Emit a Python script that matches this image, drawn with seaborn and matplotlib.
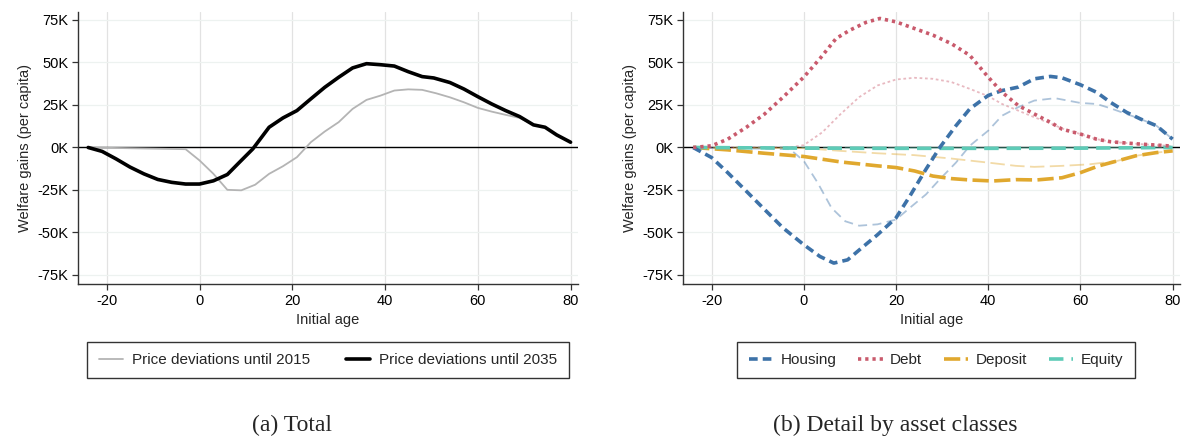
import numpy as np
import pandas as pd
import matplotlib
matplotlib.use("Agg")
import matplotlib.pyplot as plt
import seaborn as sns
from matplotlib.ticker import FuncFormatter
from matplotlib.lines import Line2D

# ---------------- data (values in thousands) ----------------
age_2015 = [-24, -3, 0, 3, 6, 9, 12, 15, 18, 21, 24, 27, 30, 33, 36, 39, 42, 45, 48,
            51, 54, 57, 60, 63, 66, 69, 72, 74.5, 77, 80]
tot_2015 = [0, -1, -7.6, -15.5, -24.9, -25.2, -21.9, -15.5, -11, -5.7, 3.1, 9.4, 14.9,
            22.7, 28, 30.5, 33.5, 34.2, 33.9, 31.9, 29.5, 26.6, 23.3, 21.1, 19.2, 17.4,
            13.3, 11.9, 7.4, 3.1]
age_2035 = [-24, -21, -18, -15, -12, -9, -6, -3, 0, 3, 6, 8.5, 11.5, 15, 18, 21, 24, 27,
            30, 33, 36, 39, 42, 45, 48, 50.5, 54, 57, 60, 63, 66, 69, 72, 74.5, 77, 80]
tot_2035 = [0, -2.3, -6.7, -11.5, -15.5, -18.8, -20.5, -21.5, -21.5, -19.6, -15.9, -9,
            -0.8, 11.9, 17.4, 21.7, 28.6, 35.4, 41.3, 46.8, 49.3, 48.7, 47.9, 44.6, 41.7,
            40.9, 38.2, 34.4, 29.9, 25.6, 21.7, 18.2, 13.3, 11.9, 7.4, 3.1]

# Detail by asset classes: dark = until 2035, light = until 2015
house_age = [-24, -20, -16.5, -12.5, -8.5, -4.5, 0, 3.5, 6.5, 9.5, 12.5, 16, 20, 23, 26.5,
             29.5, 33, 36, 40, 43, 46.5, 50, 53.5, 56, 60, 63.5, 66.5, 70, 73, 76.5, 80]
house_35 = [0, -5.9, -14.8, -25.6, -36.5, -47.3, -57.2, -64.1, -68, -66.1, -59.2, -51.3,
            -41.4, -28.6, -12.8, 0, 12.8, 22.7, 30.6, 33.5, 35.5, 40.4, 41.8, 41, 36.9,
            32.5, 26.6, 20.7, 16.8, 12.8, 4.9]
house15_age = [-24, -3, 0, 3, 6, 9, 12, 16, 20, 23, 26.5, 29.5, 33, 36, 40, 43, 46.5, 50,
               54.5, 60, 63.5, 66.5, 70, 73, 76.5, 80]
house_15 = [0, -1, -7.9, -20.7, -35.5, -43.4, -46, -45.2, -42.4, -35.5, -27.6, -18.7,
            -8.9, 1, 9.9, 18.7, 23.7, 27.6, 29, 26.2, 25.6, 23.1, 19.7, 16.8, 12.8, 4.9]

debt_age = [-24, -20, -16.5, -12.5, -8.5, -4.5, 0, 3.5, 7, 10, 13.5, 16.5, 20, 24, 28, 32,
            36, 40, 43, 46.5, 50, 53.5, 56, 60, 63.5, 66.5, 70, 73, 76.5, 80]
debt_35 = [0, 1, 4.9, 11.8, 19.7, 29.6, 41.4, 52.3, 64.1, 69, 73.6, 75.9, 73.9, 70, 66.1,
           61.1, 54.2, 41.4, 32.5, 24.7, 19.7, 14.8, 10.8, 7.9, 4.9, 3.4, 2.6, 2, 1.4, 0.8]
debt15_age = [-24, -3, 0, 4, 8, 12, 16, 20, 24, 28, 32, 36, 40, 43, 46.5, 50, 53.5, 56, 60,
              63.5, 66.5, 70, 73, 76.5, 80]
debt_15 = [0, 0, 1.4, 8.9, 19.7, 29.6, 36.5, 40, 41, 40.4, 38.5, 34.5, 30.2, 25.6, 21.7,
           17.8, 14.2, 11.2, 7.9, 4.9, 3.4, 2.6, 2, 1.4, 0.8]

dep_age = [-24, -16.5, -8.5, 0, 8, 16, 20, 24, 28, 32, 36, 41, 46, 50.5, 56, 60, 64, 68,
           72, 76.5, 80]
dep_35 = [0, -1.4, -3.4, -5.3, -8.5, -10.8, -11.8, -13.8, -16.8, -18.3, -19.1, -19.7,
          -18.9, -19.1, -17.8, -14.8, -10.8, -7.9, -4.9, -3, -2]
dep15_age = [-24, 0, 8, 16, 24, 32, 40, 46, 50, 56, 62, 68, 72, 76.5, 80]
dep_15 = [0, -0.4, -2, -3.4, -4.5, -6.5, -8.9, -10.8, -11.4, -10.8, -9.9, -7.9, -4.9, -3, -2]

eq_age = [-24, 0, 20, 40, 60, 80]
eq_35 = [0, -0.4, -0.5, -0.5, -0.4, 0]
eq_15 = [0, 0, -0.2, -0.2, -0.2, 0]

xticks = [-20, 0, 20, 40, 60, 80]
yticks = [-75, -50, -25, 0, 25, 50, 75]

# ---------------- style ----------------
sns.set_theme(style="white")
plt.rcParams['font.family'] = ['Liberation Sans', 'DejaVu Sans']
plt.rcParams['axes.unicode_minus'] = False

C_HOUSE = "#3d72a8"
C_DEBT = "#c95a6c"
C_DEP = "#e0a82e"
C_EQ = "#5ecbb7"

fig = plt.figure(figsize=(11.86, 4.43), dpi=100)
W, H = 1186, 443
axL = fig.add_axes([78 / W, (H - 284) / H, 500 / W, 272 / H])
axR = fig.add_axes([683 / W, (H - 284) / H, 497 / W, 272 / H])


def style_ax(ax):
    ax.set_xlim(-26.2, 81.6)
    ax.set_ylim(-80.3, 79.7)
    ax.set_xticks(xticks)
    ax.set_yticks(yticks)
    ax.yaxis.set_major_formatter(FuncFormatter(lambda v, p: f"{v:.0f}K"))
    for v in xticks:
        ax.axvline(v, color="#e2e2e2", lw=0.9, zorder=0)
    for v in yticks:
        ax.axhline(v, color="#edf2f0", lw=0.9, zorder=0)
    ax.axhline(0, color="black", lw=1.0, zorder=1)
    for s in ["top", "right"]:
        ax.spines[s].set_visible(False)
    for s in ["left", "bottom"]:
        ax.spines[s].set_color("#333333")
        ax.spines[s].set_linewidth(1.0)
    ax.tick_params(axis="both", direction="out", length=4, width=0.9, color="#333333",
                   labelsize=10.5, labelcolor="black", left=True, bottom=True, pad=3)


style_ax(axL)
style_ax(axR)

# ---------------- left panel ----------------
sns.lineplot(x=age_2015, y=tot_2015, ax=axL, color="#b4b4b4", lw=1.3, zorder=3)
sns.lineplot(x=age_2035, y=tot_2035, ax=axL, color="black", lw=2.6, zorder=4)

# ---------------- right panel ----------------
light = 0.42
sns.lineplot(x=house15_age, y=house_15, ax=axR, color=C_HOUSE, alpha=light, lw=1.3,
             zorder=3).lines[-1].set_dashes((5, 3))
sns.lineplot(x=debt15_age, y=debt_15, ax=axR, color=C_DEBT, alpha=light, lw=1.3,
             zorder=3).lines[-1].set_dashes((1.5, 1.5))
sns.lineplot(x=dep15_age, y=dep_15, ax=axR, color=C_DEP, alpha=light, lw=1.3,
             zorder=3).lines[-1].set_dashes((8, 3))
sns.lineplot(x=eq_age, y=eq_15, ax=axR, color=C_EQ, alpha=light, lw=1.3,
             zorder=3).lines[-1].set_dashes((8, 4))

sns.lineplot(x=dep_age, y=dep_35, ax=axR, color=C_DEP, lw=2.6, zorder=4).lines[-1].set_dashes((4.5, 1.5))
sns.lineplot(x=eq_age, y=eq_35, ax=axR, color=C_EQ, lw=2.6, zorder=4).lines[-1].set_dashes((4, 2.2))
sns.lineplot(x=house_age, y=house_35, ax=axR, color=C_HOUSE, lw=2.6, zorder=5).lines[-1].set_dashes((2.4, 1.4))
sns.lineplot(x=debt_age, y=debt_35, ax=axR, color=C_DEBT, lw=2.6, zorder=5).lines[-1].set_dashes((0.9, 1.1))

for ax in (axL, axR):
    ax.set_xlabel("Initial age", fontsize=10.5, labelpad=4)
    ax.set_ylabel("Welfare gains (per capita)", fontsize=10.5, labelpad=4)

# ---------------- legends ----------------
hL = [Line2D([], [], color="#b4b4b4", lw=1.3),
      Line2D([], [], color="black", lw=2.6)]
legL = fig.legend(hL, ["Price deviations until 2015", "Price deviations until 2035"],
                  loc="center", bbox_to_anchor=(328 / W, (H - 360) / H), ncol=2,
                  fontsize=11, frameon=True, fancybox=False, handlelength=1.6,
                  handletextpad=0.6, columnspacing=2.3, borderpad=0.75, borderaxespad=0)
legL.get_frame().set_edgecolor("black")
legL.get_frame().set_linewidth(1.0)

hR = [Line2D([], [], color=C_HOUSE, lw=2.6, dashes=(2.4, 1.4)),
      Line2D([], [], color=C_DEBT, lw=2.6, dashes=(0.9, 1.1)),
      Line2D([], [], color=C_DEP, lw=2.6, dashes=(4.5, 1.5)),
      Line2D([], [], color=C_EQ, lw=2.6, dashes=(4, 2.2))]
legR = fig.legend(hR, ["Housing", "Debt", "Deposit", "Equity"],
                  loc="center", bbox_to_anchor=(936 / W, (H - 360) / H), ncol=4,
                  fontsize=11, frameon=True, fancybox=False, handlelength=1.6,
                  handletextpad=0.5, columnspacing=1.4, borderpad=0.75, borderaxespad=0)
legR.get_frame().set_edgecolor("black")
legR.get_frame().set_linewidth(1.0)

# ---------------- captions ----------------
fig.text(292 / W, (H - 425) / H, "(a) Total", ha="center", va="center",
         fontsize=17, family=["Liberation Serif", "DejaVu Serif"])
fig.text(895 / W, (H - 425) / H, "(b) Detail by asset classes", ha="center", va="center",
         fontsize=17, family=["Liberation Serif", "DejaVu Serif"])

fig.savefig("out.png", dpi=100)
